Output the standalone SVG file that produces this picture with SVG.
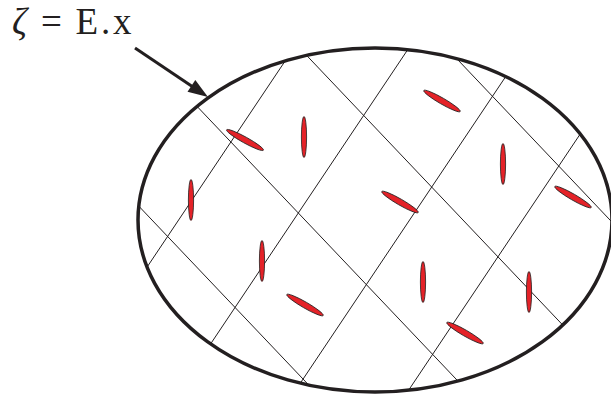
<svg xmlns="http://www.w3.org/2000/svg" width="611" height="399" viewBox="0 0 611 399">
<style>
.grid{stroke:#231f20;stroke-width:1;fill:none}
.body{fill:none;stroke:#231f20;stroke-width:3.5}
.fib{fill:#e42228;stroke:#231f20;stroke-width:0.8}
.lbl{font-family:"Liberation Serif","DejaVu Serif",serif;font-size:37px;fill:#231f20}
</style>
<defs>
<clipPath id="clipBody"><ellipse cx="375" cy="220" rx="237" ry="172"/></clipPath>
</defs>
<g id="grid" clip-path="url(#clipBody)">
<line class="grid" x1="326" y1="0" x2="58.7" y2="399"/>
<line class="grid" x1="441" y1="0" x2="173.7" y2="399"/>
<line class="grid" x1="557" y1="0" x2="289.7" y2="399"/>
<line class="grid" x1="670" y1="0" x2="402.7" y2="399"/>
<line class="grid" x1="-57" y1="0" x2="322" y2="399"/>
<line class="grid" x1="96" y1="0" x2="475" y2="399"/>
<line class="grid" x1="254" y1="0" x2="633" y2="399"/>
<line class="grid" x1="401" y1="0" x2="780" y2="399"/>
</g>
<g id="body">
<ellipse class="body" cx="375" cy="220" rx="237" ry="172"/>
</g>
<g id="fibres">
<ellipse class="fib" cx="245" cy="140" rx="21" ry="3" transform="rotate(29 245 140)"/>
<ellipse class="fib" cx="304" cy="137" rx="2.6" ry="20.5"/>
<ellipse class="fib" cx="191" cy="200" rx="2.6" ry="20.5"/>
<ellipse class="fib" cx="442" cy="101" rx="21" ry="3" transform="rotate(30 442 101)"/>
<ellipse class="fib" cx="503" cy="164" rx="2.6" ry="20.5"/>
<ellipse class="fib" cx="400" cy="202" rx="21" ry="3" transform="rotate(30 400 202)"/>
<ellipse class="fib" cx="573" cy="197" rx="21" ry="3" transform="rotate(30 573 197)"/>
<ellipse class="fib" cx="262" cy="261" rx="2.6" ry="20.5"/>
<ellipse class="fib" cx="305" cy="305" rx="21" ry="3" transform="rotate(30 305 305)"/>
<ellipse class="fib" cx="423" cy="282" rx="2.6" ry="20.5"/>
<ellipse class="fib" cx="529" cy="292" rx="2.6" ry="20.5"/>
<ellipse class="fib" cx="465" cy="333" rx="21" ry="3" transform="rotate(30 465 333)"/>
</g>
<g id="connectors">
<line x1="135" y1="48" x2="193" y2="87" stroke="#231f20" stroke-width="3"/>
<polygon points="208,97 187.5,91.7 195.3,80.1" fill="#231f20"/>
</g>
<g id="label">
<text class="lbl" y="34"><tspan x="12" font-style="italic">ζ</tspan><tspan x="41">=</tspan><tspan x="75.5">E</tspan><tspan x="101">.</tspan><tspan x="113">x</tspan></text>
</g>
</svg>
